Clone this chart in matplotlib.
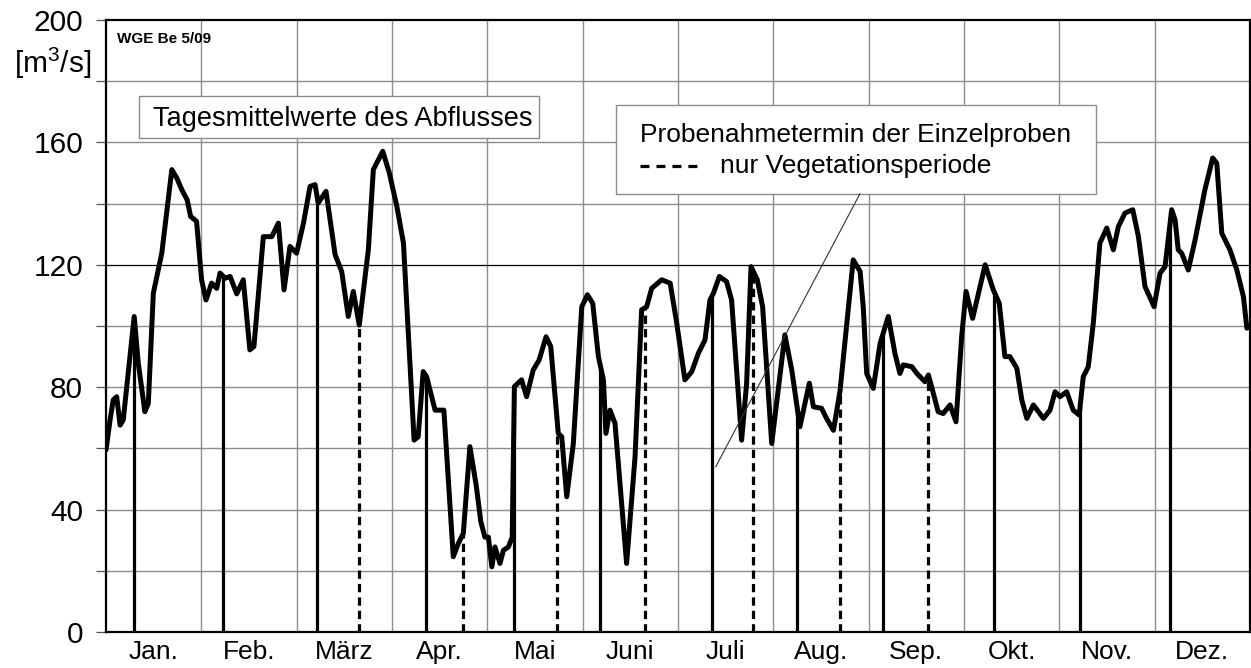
import numpy as np
import matplotlib
matplotlib.use("Agg")
import matplotlib.pyplot as plt
from matplotlib.lines import Line2D
from matplotlib.patches import Rectangle

plt.rcParams['font.family'] = ['Liberation Sans', 'DejaVu Sans']
plt.rcParams['mathtext.default'] = 'regular'

# ---- data -------------------------------------------------------------
months = ["Jan.", "Feb.", "März", "Apr.", "Mai", "Juni", "Juli", "Aug.",
          "Sep.", "Okt.", "Nov.", "Dez."]

day = [0, 1.3, 2.3, 3.4, 4.5, 5.5, 9.0, 10.3, 12.4, 13.5, 15.1, 17.8, 21.0,
       22.6, 24.2, 25.9, 27.0, 28.9, 30.5, 31.9, 33.7, 35.3, 36.4, 38.0, 39.6,
       41.7, 43.8, 45.9, 47.2, 50.2, 52.9, 55.0, 56.8, 58.7, 60.8, 63.0, 65.1,
       66.7, 67.7, 70.2, 73.1, 75.2, 77.3, 78.9, 80.8, 83.7, 85.3, 88.3, 90.4,
       92.8, 94.9, 98.3, 99.6, 101.2, 102.3, 105.0, 107.8, 110.8, 112.4, 114.0,
       116.1, 118.1, 119.6, 120.9, 122.0, 123.1, 124.1, 125.7, 126.8, 128.4,
       129.6, 130.3, 132.6, 134.2, 136.3, 138.2, 140.4, 141.9, 144.3, 145.4,
       147.0, 149.1, 151.8, 153.6, 155.3, 157.1, 158.7, 159.5, 160.8, 162.4,
       166.1, 168.8, 170.9, 172.5, 174.1, 177.3, 180.0, 182.1, 184.7, 186.9,
       189.0, 191.1, 192.7, 193.8, 195.7, 198.0, 199.6, 202.8, 204.4, 205.8,
       207.8, 209.5, 212.4, 216.6, 218.8, 221.4, 224.4, 225.7, 228.3, 229.9,
       232.1, 234.2, 238.4, 240.6, 241.6, 242.7, 244.8, 247.0, 249.6, 251.7,
       253.3, 254.4, 257.1, 258.7, 261.3, 262.4, 263.4, 265.5, 267.1, 269.3,
       271.2, 273.0, 274.4, 276.5, 280.5, 283.1, 285.0, 286.8, 288.4, 290.6,
       292.2, 293.8, 295.9, 299.1, 301.2, 302.8, 304.4, 306.5, 308.6, 310.5,
       311.8, 313.4, 315.0, 317.1, 319.3, 321.4, 323.0, 325.1, 327.6, 329.4,
       331.5, 334.4, 336.3, 337.9, 340.0, 341.1, 342.1, 343.2, 345.3, 347.5,
       350.6, 353.1, 354.4, 356.0, 358.6, 360.8, 362.9, 364.0, 365.0]

flow = [59.5, 69.3, 75.8, 76.9, 67.6, 69.3, 103.1, 87.8, 72.0, 74.7, 110.7,
        123.8, 151.1, 148.3, 144.5, 141.2, 135.8, 134.2, 115.1, 108.5, 114.0,
        112.3, 117.3, 115.6, 116.2, 110.5, 115.1, 92.2, 93.3, 129.2, 129.2,
        133.6, 111.8, 126.0, 123.8, 133.6, 145.6, 146.2, 140.2, 144.0, 123.3,
        117.8, 103.1, 111.3, 100.3, 124.9, 151.1, 157.1, 150.0, 139.1, 127.1,
        62.7, 63.8, 85.1, 83.4, 72.5, 72.5, 24.6, 28.9, 32.2, 60.6, 48.0, 36.0,
        31.0, 31.0, 21.3, 27.8, 22.4, 26.7, 27.8, 31.0, 80.2, 82.4, 76.9, 85.6,
        88.9, 96.5, 93.3, 64.9, 63.8, 44.2, 61.6, 106.3, 110.2, 107.4, 90.0,
        82.4, 64.9, 72.5, 68.2, 22.4, 57.3, 105.3, 106.3, 112.3, 115.1, 114.0,
        100.9, 82.4, 85.1, 91.1, 95.4, 108.5, 110.7, 116.2, 114.5, 108.5, 62.7,
        81.3, 119.4, 115.1, 106.3, 61.6, 97.1, 85.6, 67.1, 81.3, 73.6, 73.1,
        69.8, 65.9, 78.8, 121.6, 117.8, 106.3, 84.5, 79.6, 94.4, 103.1, 91.1,
        84.5, 87.3, 86.7, 84.5, 81.8, 84.0, 80.2, 72.0, 71.4, 74.2, 68.7, 96.5,
        111.3, 102.5, 120.0, 111.8, 107.4, 90.0, 90.0, 86.2, 75.8, 69.8, 74.2,
        69.8, 72.5, 78.5, 76.9, 78.5, 72.5, 70.9, 83.4, 86.7, 100.9, 127.1,
        132.0, 124.9, 132.5, 136.9, 138.0, 129.2, 112.9, 106.3, 117.3, 119.4,
        138.0, 134.7, 124.9, 123.8, 118.3, 128.2, 144.5, 154.9, 153.2, 130.3,
        124.9, 118.3, 109.6, 99.3, 99.8]

sample_days_all = [9.0, 37.4, 67.2, 102.1, 130.3, 157.7, 193.4, 220.4, 248.0,
                   283.4, 310.8, 339.5]
sample_days_veg = [80.8, 114.0, 143.8, 172.0, 206.5, 234.2, 262.4]

y_ticks = list(range(0, 201, 20))
y_labels = [str(v) if v % 40 == 0 else "" for v in y_ticks]

# ---- figure -----------------------------------------------------------
W, H = 1251, 668
fig = plt.figure(figsize=(W / 100, H / 100), dpi=100)
ax = fig.add_axes([106 / W, 36 / H, 1144 / W, 612 / H])
ax.set_xlim(0, 365)
ax.set_ylim(0, 200)

bounds = np.linspace(0, 365, 13)
centers = (bounds[:-1] + bounds[1:]) / 2

grid_col = '#8c8c8c'
for b in bounds[1:-1]:
    ax.axvline(b, color=grid_col, lw=1.0, zorder=0.5)
for v in y_ticks[1:-1]:
    if v == 120:
        ax.axhline(v, color='black', lw=0.9, zorder=0.6)
    else:
        ax.axhline(v, color=grid_col, lw=1.0, zorder=0.5)

# flow curve
ax.plot(day, flow, color='black', lw=3.6, solid_joinstyle='round',
        solid_capstyle='round', zorder=3)

# sampling dates
h_all = np.interp(sample_days_all, day, flow)
h_veg = np.interp(sample_days_veg, day, flow)
ax.vlines(sample_days_all, 0, h_all, color='black', lw=2.3, zorder=2.5)
ax.vlines(sample_days_veg, 0, h_veg, color='black', lw=2.3,
          linestyles=(0, (2.6, 1.6)), zorder=2.5)

# axes styling
for s in ax.spines.values():
    s.set_linewidth(1.6)
    s.set_color('black')
ax.set_yticks(y_ticks)
ax.set_yticklabels(y_labels, fontsize=21.5)
ax.tick_params(axis='y', length=7.5, width=0.9, pad=9, color='#555555')
ax.set_xticks(bounds)
ax.set_xticklabels([])
ax.tick_params(axis='x', which='major', length=0)
ax.set_xticks(centers, minor=True)
ax.set_xticklabels(months, minor=True, fontsize=19)
ax.tick_params(axis='x', which='minor', length=0, pad=6)

# unit label
fig.text(91 / W, 1 - 63 / H, "[m$^{3}$/s]", fontsize=21.5, ha='right',
         va='center')

# small tag
ax.text(0.0094, 0.962, "WGE Be 5/09", transform=ax.transAxes, fontsize=11,
        fontweight='bold', va='baseline', ha='left', zorder=5)

# box 1
ax.add_patch(Rectangle((0.0288, 0.807), 0.3497, 0.069, transform=ax.transAxes,
                       facecolor='white', edgecolor='#8c8c8c', lw=1.0,
                       zorder=4))
ax.text(0.041, 0.826, "Tagesmittelwerte des Abflusses", transform=ax.transAxes,
        fontsize=19.5, va='baseline', ha='left', zorder=5)

# box 2
ax.add_patch(Rectangle((0.4458, 0.7157), 0.4196, 0.1453,
                       transform=ax.transAxes, facecolor='white',
                       edgecolor='#8c8c8c', lw=1.0, zorder=4))
ax.text(0.4668, 0.800, "Probenahmetermin der Einzelproben",
        transform=ax.transAxes, fontsize=19, va='baseline', ha='left',
        zorder=5)
ax.add_line(Line2D([0.4668, 0.5166], [0.762, 0.762], transform=ax.transAxes,
                   color='black', lw=2.3, linestyle=(0, (2.8, 2.2)),
                   zorder=5))
ax.text(0.5367, 0.750, "nur Vegetationsperiode", transform=ax.transAxes,
        fontsize=19, va='baseline', ha='left', zorder=5)

# leader line
ax.add_line(Line2D([0.533, 0.659], [0.270, 0.716], transform=ax.transAxes,
                   color='#333333', lw=0.8, zorder=4))

fig.savefig("out.png", dpi=100)
